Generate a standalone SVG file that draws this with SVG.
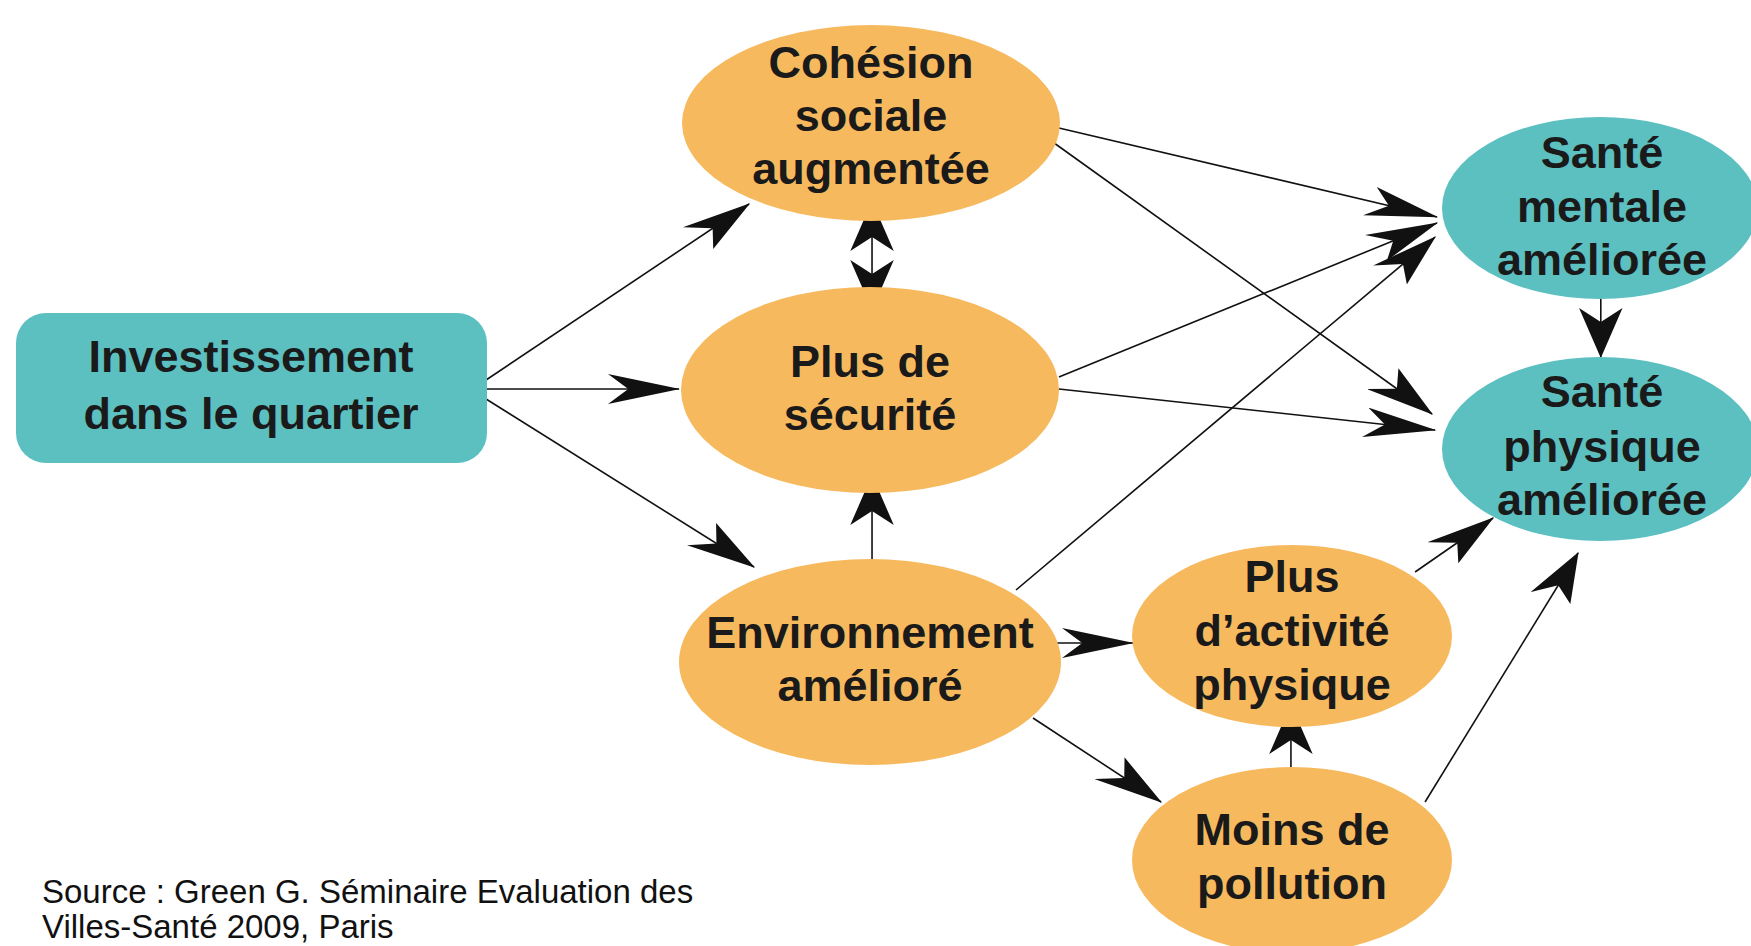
<svg xmlns="http://www.w3.org/2000/svg" width="1751" height="946" viewBox="0 0 1751 946">
<defs>
<style>
.org{fill:#F6B95E}
.teal{fill:#5CC0C1}
.lbl{font-family:"Liberation Sans",Arial,sans-serif;font-weight:bold;font-size:45px;fill:#1a1a1a;text-anchor:middle}
.src{font-family:"Liberation Sans",Arial,sans-serif;font-size:33px;fill:#111}
.con line{stroke:#111;stroke-width:1.6;vector-effect:non-scaling-stroke;marker-end:url(#ah)}
</style>
<marker id="ah" viewBox="0 0 50 30" markerWidth="50" markerHeight="30" refX="49" refY="15" orient="auto-start-reverse" markerUnits="userSpaceOnUse">
<path d="M0,0 L50,15 L0,30 L14,15 z" fill="#111"/>
</marker>
</defs>
<rect width="1751" height="946" fill="#fff"/>

<g id="connectors" class="con" transform="scale(1.45 1)">
<line x1="335.2" y1="380" x2="516.6" y2="204"/>
<line x1="335.2" y1="389" x2="468.3" y2="389"/>
<line x1="335.2" y1="399" x2="520" y2="567"/>
<line x1="601.4" y1="202" x2="601.4" y2="309" marker-start="url(#ah)"/>
<line x1="601.4" y1="560" x2="601.4" y2="476"/>
<line x1="730.3" y1="128" x2="991" y2="217"/>
<line x1="724.1" y1="140" x2="987.6" y2="414"/>
<line x1="730.3" y1="377" x2="991" y2="223"/>
<line x1="730.3" y1="389" x2="989.7" y2="430"/>
<line x1="700.7" y1="590" x2="989.7" y2="237"/>
<line x1="719.3" y1="643" x2="781.4" y2="643"/>
<line x1="712.4" y1="718" x2="800.7" y2="802"/>
<line x1="890.3" y1="773" x2="890.3" y2="705"/>
<line x1="975.9" y1="572" x2="1029.7" y2="518"/>
<line x1="982.8" y1="802" x2="1088.3" y2="553"/>
<line x1="1104" y1="290" x2="1104" y2="357"/>
</g>

<g id="investissement">
<rect x="16" y="313" width="471" height="150" rx="30" class="teal"/>
<text class="lbl" x="251" y="372">Investissement</text>
<text class="lbl" x="251" y="429">dans le quartier</text>
</g>

<g id="cohesion">
<ellipse cx="871" cy="123" rx="189" ry="98" class="org"/>
<text class="lbl" x="871" y="78">Cohésion</text>
<text class="lbl" x="871" y="131">sociale</text>
<text class="lbl" x="871" y="184">augmentée</text>
</g>

<g id="securite">
<ellipse cx="870" cy="390" rx="189" ry="103" class="org"/>
<text class="lbl" x="870" y="377">Plus de</text>
<text class="lbl" x="870" y="430">sécurité</text>
</g>

<g id="environnement">
<ellipse cx="870" cy="662" rx="191" ry="103" class="org"/>
<text class="lbl" x="870" y="648">Environnement</text>
<text class="lbl" x="870" y="701">amélioré</text>
</g>

<g id="activite">
<ellipse cx="1292" cy="636" rx="160" ry="91" class="org"/>
<text class="lbl" x="1292" y="592">Plus</text>
<text class="lbl" x="1292" y="646">d’activité</text>
<text class="lbl" x="1292" y="700">physique</text>
</g>

<g id="pollution">
<ellipse cx="1292" cy="860" rx="160" ry="93" class="org"/>
<text class="lbl" x="1292" y="845">Moins de</text>
<text class="lbl" x="1292" y="899">pollution</text>
</g>

<g id="sante-mentale">
<ellipse cx="1600" cy="208" rx="158" ry="91" class="teal"/>
<text class="lbl" x="1602" y="168">Santé</text>
<text class="lbl" x="1602" y="222">mentale</text>
<text class="lbl" x="1602" y="275">améliorée</text>
</g>

<g id="sante-physique">
<ellipse cx="1600" cy="449" rx="158" ry="92" class="teal"/>
<text class="lbl" x="1602" y="407">Santé</text>
<text class="lbl" x="1602" y="462">physique</text>
<text class="lbl" x="1602" y="515">améliorée</text>
</g>

<g id="source">
<text class="src" x="42" y="903">Source : Green G. Séminaire Evaluation des</text>
<text class="src" x="42" y="938">Villes-Santé 2009, Paris</text>
</g>
</svg>
